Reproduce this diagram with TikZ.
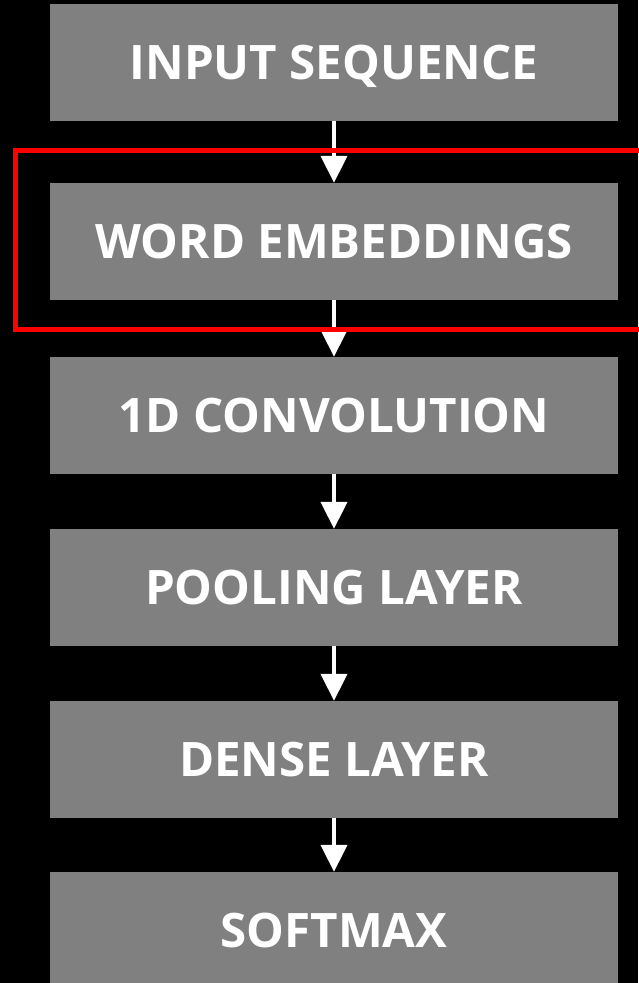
\documentclass[tikz,border=0pt]{standalone}
\usepackage{fontspec}
\setmainfont{Open Sans}
\usetikzlibrary{arrows.meta}
\definecolor{layergray}{RGB}{128,128,128}
\begin{document}
\begin{tikzpicture}[x=1pt,y=-1pt,
  layer/.style={fill=layergray,draw=none,minimum width=568pt,minimum height=117pt,
    inner sep=0pt,text height=33.9pt,text depth=0pt,text=white,
    font=\fontsize{47.5}{52}\selectfont\bfseries},
  flow/.style={draw=white,line width=4pt,-{Triangle[length=27pt,width=26pt]}}]
  % black page
  \fill[black] (0,0) rectangle (638,983);
  \useasboundingbox (0,0) rectangle (638,983);
  % layer boxes (centre x = 334)
  \node[layer] (inp)  at (334,62.5)  {INPUT SEQUENCE};
  \node[layer] (emb)  at (334,241.5) {WORD EMBEDDINGS};
  \node[layer] (conv) at (334,415.5) {1D CONVOLUTION};
  \node[layer] (pool) at (334,587.5) {POOLING LAYER};
  \node[layer] (dens) at (334,759.5) {DENSE LAYER};
  \node[layer] (soft) at (334,930.5) {SOFTMAX};
  % connectors
  \draw[flow] (inp.south) -- (emb.north);
  \draw[flow] (emb.south) -- (conv.north);
  \draw[flow] (conv.south) -- (pool.north);
  \draw[flow] (pool.south) -- (dens.north);
  \draw[flow] (dens.south) -- (soft.north);
  % highlight around the embedding layer
  \draw[red,line width=5pt] (660,150) -- (15.5,150) -- (15.5,329) -- (660,329);
\end{tikzpicture}
\end{document}
